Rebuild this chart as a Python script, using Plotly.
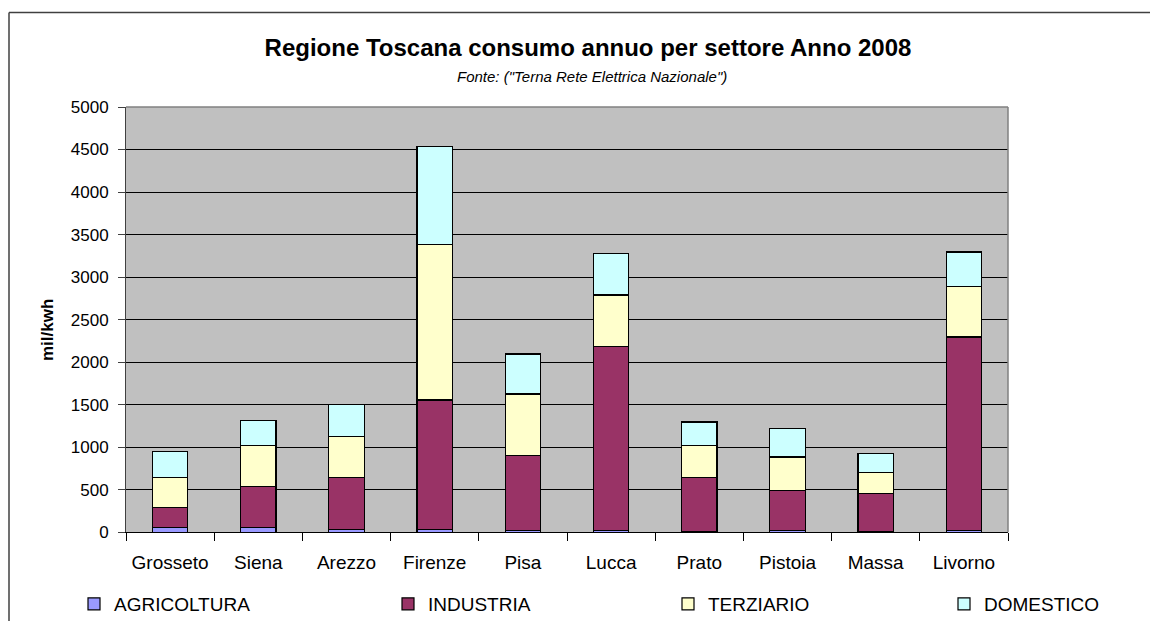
import plotly.graph_objects as go

# valori (mil/kwh)
province = ["Grosseto", "Siena", "Arezzo", "Firenze", "Pisa", "Lucca", "Prato", "Pistoia", "Massa", "Livorno"]
agricoltura = [55, 55, 35, 35, 20, 20, 5, 20, 5, 20]
industria = [235, 480, 610, 1520, 885, 2165, 640, 475, 450, 2275]
terziario = [355, 480, 480, 1830, 720, 605, 370, 390, 245, 590]
domestico = [300, 300, 375, 1155, 470, 485, 280, 335, 225, 410]

# la pagina ha 8px di margine nel body: tutto spostato di 8
OFF = 8
W, H = 1158 - OFF, 621 - OFF
L, R, T, B = 126 - OFF, 1008 - OFF, 107 - OFF, 534 - OFF


def px(x):
    return (x - OFF - L) / (R - L)


def py(y):
    return (B - (y - OFF)) / (B - T)


font = "Arial, Liberation Sans, sans-serif"

fig = go.Figure()
series = [
    ("AGRICOLTURA", agricoltura, "#9999FF", "legend", 96),
    ("INDUSTRIA", industria, "#993366", "legend2", 410),
    ("TERZIARIO", terziario, "#FFFFCC", "legend3", 690),
    ("DOMESTICO", domestico, "#CCFFFF", "legend4", 966),
]
legends = {}
for name, vals, col, leg, xc in series:
    fig.add_trace(go.Bar(x=province, y=vals, name=name, legend=leg,
                         marker=dict(color=col, line=dict(color="black", width=1.2))))
    legends[leg] = dict(orientation="h", xref="container", yref="container",
                        x=(xc - 22 - OFF) / W, xanchor="left",
                        y=1 - (604 - OFF) / H, yanchor="middle",
                        font=dict(size=19), bgcolor="rgba(0,0,0,0)")

fig.update_layout(
    width=W, height=H, autosize=False,
    margin=dict(l=L, r=W - R, t=T, b=H - B),
    barmode="stack", bargap=0.6,
    paper_bgcolor="white", plot_bgcolor="#C0C0C0",
    font=dict(family=font, color="black"),
    title=dict(text="<b>Regione Toscana consumo annuo per settore Anno 2008</b>",
               x=(588 - OFF) / W, xanchor="center", y=1 - (48 - OFF) / H, yanchor="middle",
               font=dict(size=24, family=font)),
    showlegend=True,
    **legends,
)
fig.update_yaxes(range=[0, 5000], dtick=500, showgrid=True, gridcolor="black", gridwidth=1,
                 zeroline=False, showline=True, linecolor="#404040", linewidth=1,
                 ticks="outside", ticklen=7, tickcolor="#404040",
                 tickfont=dict(size=17), ticklabelstandoff=6)
fig.update_xaxes(tickson="boundaries", ticks="outside", ticklen=8, tickcolor="black",
                 showline=True, linecolor="black", linewidth=1,
                 tickfont=dict(size=19), ticklabelstandoff=13)

# titolo asse y e sottotitolo
fig.add_annotation(text="<b>mil/kwh</b>", textangle=-90, x=px(47), y=py(331),
                   xanchor="center", yanchor="middle",
                   xref="paper", yref="paper", showarrow=False, font=dict(size=17))
fig.add_annotation(text="<i>Fonte: (\"Terna Rete Elettrica Nazionale\")</i>",
                   x=px(592), y=py(76), xanchor="center", yanchor="middle",
                   xref="paper", yref="paper", showarrow=False, font=dict(size=15))

# bordo area grafico e cornice esterna
fig.add_shape(type="line", xref="paper", yref="paper", x0=0, x1=1, y0=1, y1=1,
              line=dict(color="#808080", width=1.5))
fig.add_shape(type="line", xref="paper", yref="paper", x0=1, x1=1, y0=0, y1=1,
              line=dict(color="#808080", width=1.5))
fig.add_shape(type="line", xref="paper", yref="paper", x0=px(9), x1=px(1160), y0=py(12), y1=py(12),
              line=dict(color="#404040", width=1.5))
fig.add_shape(type="line", xref="paper", yref="paper", x0=px(9), x1=px(9), y0=py(12), y1=py(625),
              line=dict(color="#404040", width=1.5))

fig.write_html("out.html")
